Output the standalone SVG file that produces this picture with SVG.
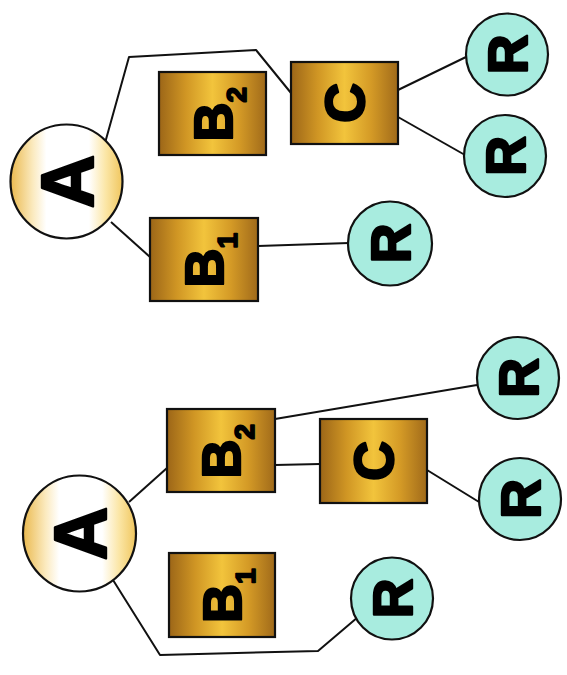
<svg xmlns="http://www.w3.org/2000/svg" width="567" height="675" viewBox="0 0 567 675">
<defs>
<linearGradient id="gold" x1="0" y1="0" x2="1" y2="0">
<stop offset="0" stop-color="#9c6618"/>
<stop offset="0.25" stop-color="#d09624"/>
<stop offset="0.5" stop-color="#f2c43c"/>
<stop offset="0.75" stop-color="#d49a26"/>
<stop offset="1" stop-color="#a06a1a"/>
</linearGradient>
<linearGradient id="cream" x1="0" y1="0" x2="1" y2="0">
<stop offset="0" stop-color="#eab94e"/>
<stop offset="0.2" stop-color="#fbeabf"/>
<stop offset="0.32" stop-color="#ffffff"/>
<stop offset="0.7" stop-color="#ffffff"/>
<stop offset="0.85" stop-color="#fbe6a6"/>
<stop offset="1" stop-color="#f0c65e"/>
</linearGradient>
</defs>
<style>
.box{fill:url(#gold);stroke:#111;stroke-width:2.2}
.a{fill:url(#cream);stroke:#111;stroke-width:2.2}
.r{fill:#a8ecdf;stroke:#111;stroke-width:2.2}
.ln{fill:none;stroke:#111;stroke-width:2;stroke-linejoin:round}
text{font-family:"Liberation Sans",Arial,sans-serif;font-weight:bold;fill:#000;stroke:#000;stroke-width:2.4;stroke-linejoin:round}
.ta{font-size:74px;text-anchor:middle}
.tr{font-size:55px;text-anchor:middle}
.tc{font-size:55px;text-anchor:middle}
.tb{font-size:54px}
.sub{font-size:28px;stroke-width:1.8}
</style>
<rect width="567" height="675" fill="#fff"/>
<g id="connectors">
<polyline class="ln" points="105,143 129,57 256,50 291,93"/>
<line class="ln" x1="111" y1="222" x2="150" y2="257"/>
<line class="ln" x1="258" y1="246" x2="349" y2="243"/>
<line class="ln" x1="398" y1="90" x2="466" y2="57"/>
<line class="ln" x1="398" y1="117" x2="465" y2="155"/>
<line class="ln" x1="129" y1="502" x2="167" y2="468"/>
<line class="ln" x1="275" y1="419" x2="477" y2="385"/>
<line class="ln" x1="275" y1="465" x2="320" y2="464"/>
<line class="ln" x1="427" y1="470" x2="479" y2="502"/>
<polyline class="ln" points="113,580 160,655 318,651 358,617"/>
</g>
<g id="top-A" transform="translate(66.5,181.5)">
<ellipse class="a" cx="0" cy="0" rx="56" ry="57"/>
<text class="ta" transform="rotate(-90)" x="0" y="26.5">A</text>
</g>
<g id="top-B2" transform="translate(212.5,113.5)">
<rect class="box" x="-53.5" y="-41.5" width="107" height="83"/>
<text class="tb" transform="rotate(-90)" x="-28" y="19">B<tspan class="sub" dy="14">2</tspan></text>
</g>
<g id="top-C" transform="translate(344.5,103)">
<rect class="box" x="-53.5" y="-41" width="107" height="82"/>
<text class="tc" transform="rotate(-90)" x="0" y="19">C</text>
</g>
<g id="top-B1" transform="translate(204,259.5)">
<rect class="box" x="-54" y="-41.5" width="108" height="83"/>
<text class="tb" transform="rotate(-90)" x="-28" y="19">B<tspan class="sub" dy="14">1</tspan></text>
</g>
<g id="top-R1" transform="translate(507,54.5)">
<circle class="r" r="41"/>
<text class="tr" transform="rotate(-90)" x="0" y="19.5">R</text>
</g>
<g id="top-R2" transform="translate(505,156)">
<circle class="r" r="41"/>
<text class="tr" transform="rotate(-90)" x="0" y="19.5">R</text>
</g>
<g id="top-R3" transform="translate(390,243.5)">
<circle class="r" r="42"/>
<text class="tr" transform="rotate(-90)" x="0" y="19.5">R</text>
</g>
<g id="bot-A" transform="translate(79.5,533.5)">
<ellipse class="a" cx="0" cy="0" rx="56.5" ry="58"/>
<text class="ta" transform="rotate(-90)" x="0" y="26.5">A</text>
</g>
<g id="bot-B2" transform="translate(221,450.5)">
<rect class="box" x="-54" y="-41.5" width="108" height="83"/>
<text class="tb" transform="rotate(-90)" x="-28" y="19">B<tspan class="sub" dy="14">2</tspan></text>
</g>
<g id="bot-C" transform="translate(373.5,461)">
<rect class="box" x="-53.5" y="-42" width="107" height="84"/>
<text class="tc" transform="rotate(-90)" x="0" y="19">C</text>
</g>
<g id="bot-B1" transform="translate(222,595)">
<rect class="box" x="-53" y="-42" width="106" height="84"/>
<text class="tb" transform="rotate(-90)" x="-28" y="19">B<tspan class="sub" dy="14">1</tspan></text>
</g>
<g id="bot-R1" transform="translate(518,378)">
<circle class="r" r="41"/>
<text class="tr" transform="rotate(-90)" x="0" y="19.5">R</text>
</g>
<g id="bot-R2" transform="translate(520,499)">
<circle class="r" r="41"/>
<text class="tr" transform="rotate(-90)" x="0" y="19.5">R</text>
</g>
<g id="bot-R3" transform="translate(392,598.5)">
<circle class="r" r="41"/>
<text class="tr" transform="rotate(-90)" x="0" y="19.5">R</text>
</g>
</svg>
